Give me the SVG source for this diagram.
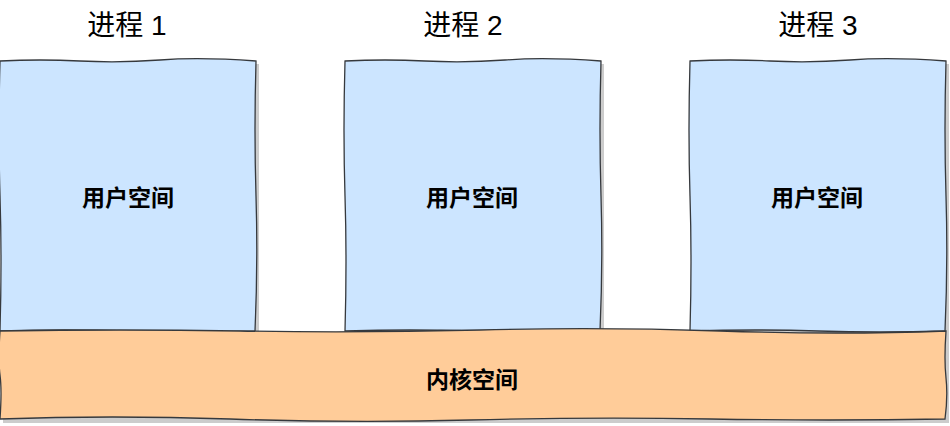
<svg xmlns="http://www.w3.org/2000/svg" width="950" height="426" viewBox="0 0 950 426">
<style>
.user{fill:#cce5ff;stroke:#36393d;stroke-width:1.3}
.kern{fill:#ffcc99;stroke:#36393d;stroke-width:1.3}
.shadow{fill:#000;opacity:0.2}
.title{font-family:"Liberation Sans","Noto Sans CJK SC",sans-serif;font-size:28px;fill:#000;text-anchor:middle}
.lbl{font-family:"Liberation Sans","Noto Sans CJK SC",sans-serif;font-size:23px;font-weight:bold;fill:#000;text-anchor:middle}
</style>
<rect width="950" height="426" fill="#fff"/>
<g id="title1"><text class="title" x="127" y="35">进程 1</text></g>
<g id="title2"><text class="title" x="463" y="35">进程 2</text></g>
<g id="title3"><text class="title" x="818" y="35">进程 3</text></g>
<g id="user1">
<rect class="shadow" x="3" y="64" width="256" height="270"/>
<path class="user" d="M0,61 Q40,59 80,61 T160,60 T256,61 Q254,130 256,196 T255,331 Q190,333 128,331 T0,331 Q2,260 0,196 T0,61 Z"/>
<text class="lbl" x="128" y="206">用户空间</text>
</g>
<g id="user2">
<rect class="shadow" x="348" y="64" width="256" height="270"/>
<path class="user" d="M345,61 Q385,59 425,61 T505,60 T601,61 Q599,130 601,196 T600,331 Q535,333 473,331 T345,331 Q347,260 345,196 T345,61 Z"/>
<text class="lbl" x="472" y="206">用户空间</text>
</g>
<g id="user3">
<rect class="shadow" x="693" y="64" width="256" height="270"/>
<path class="user" d="M690,61 Q730,59 770,61 T850,60 T946,61 Q944,130 946,196 T945,331 Q880,333 818,331 T690,331 Q692,260 690,196 T690,61 Z"/>
<text class="lbl" x="817" y="206">用户空间</text>
</g>
<g id="kernel">
<rect class="shadow" x="3" y="334" width="946" height="89"/>
<path class="kern" d="M0,331 Q120,329 240,331 T480,330 T720,331 T946,331 Q944,360 946,378 T945,419 Q830,421 710,419 T470,420 T230,419 T0,419 Q2,390 0,375 T0,331 Z"/>
<text class="lbl" x="472" y="388">内核空间</text>
</g>
<g id="connectors"></g>
</svg>
